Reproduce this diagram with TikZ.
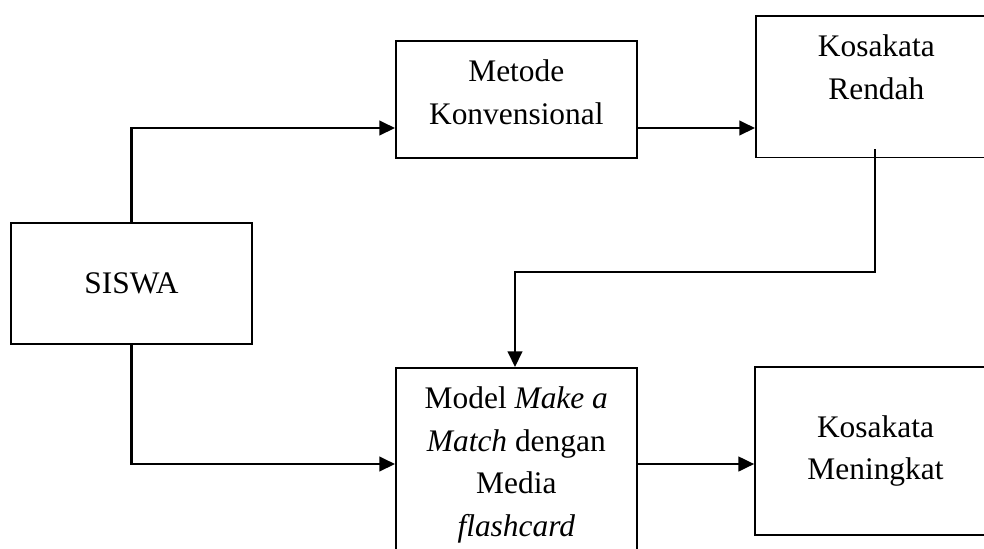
\documentclass[tikz,border=0pt]{standalone}
\usepackage{fontspec}
\setmainfont{Liberation Serif}
\usetikzlibrary{arrows.meta}

\tikzset{
  kotak/.style={draw, line width=0.6pt, inner sep=0pt, minimum width=92.1pt,
    align=center, font=\fontsize{12}{16.3}\selectfont},
  panah/.style={line width=0.8pt, -{Triangle[length=6pt,width=5.6pt]}},
}
% kotak dengan teks rata atas
\newcommand{\teksatas}[2]{\parbox[t][#1][t]{92.1pt}{\centering\vspace*{7.2pt}#2}}

\begin{document}
\begin{tikzpicture}[x=0.382pt,y=-0.382pt]
        \fill [white] (0,0) rectangle (984,548);
        \clip (0,0) rectangle (984,548);
        \node [kotak, minimum height=46.2pt] (siswa) at (131.5,283.5) {SISWA};
        \node [kotak, anchor=north west] (metode) at (395,40)
            {\teksatas{44.7pt}{Metode\\Konvensional}};
        \node [kotak, anchor=north west] (rendah) at (755,15)
            {\teksatas{54.2pt}{Kosakata\\Rendah}};
        \node [kotak, anchor=north west] (model) at (395,367)
            {\teksatas{76.4pt}{Model \textit{Make a}\\\textit{Match} dengan\\Media\\\textit{flashcard}}};
        \node [kotak, minimum height=64.2pt] (meningkat) at (875.5,451) {Kosakata\\Meningkat};
        % titik belok
        \coordinate (atas) at (131.5,128);
        \coordinate (bawah) at (131.5,464);
        \coordinate (turun) at (875,149);
        \coordinate (belok) at (875,272);
        \coordinate (kiri) at (515,272);
        \draw [panah] (siswa.north) -- (atas) -- (atas -| metode.west);
        \draw [panah] (siswa.south) -- (bawah) -- (bawah -| model.west);
        \draw [panah] (metode.east |- atas) -- (rendah.west |- atas);
        \draw [panah] (model.east |- bawah) -- (meningkat.west |- bawah);
        \draw [panah] (turun) -- (belok) -- (kiri) -- (kiri |- model.north);
\end{tikzpicture}
\end{document}
